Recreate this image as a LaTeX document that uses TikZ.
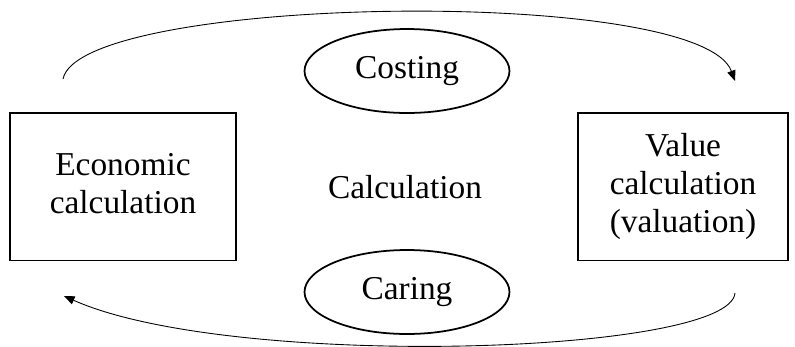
\documentclass[tikz,border=0pt]{standalone}
\usepackage{fontspec}
\setmainfont{Liberation Serif}
\usetikzlibrary{arrows.meta,shapes.geometric}

\begin{document}
\begin{tikzpicture}[x=0.02cm,y=-0.02cm, box/.style={draw,line width=1pt,align=center,
  font=\fontsize{19}{21.5}\selectfont,minimum height=2.95cm,inner sep=0pt},
  oval/.style={draw,ellipse,line width=1pt,font=\fontsize{19}{21.5}\selectfont,
  minimum width=4.1cm,minimum height=1.68cm,inner sep=0pt}, >={Triangle[length=6pt,width=4.8pt]}]
\useasboundingbox (0,0) rectangle (795,346);
\node[box,minimum width=4.52cm] (econ) at (123,186.7) {\raisebox{-5pt}{\begin{tabular}{@{}c@{}}Economic\\calculation\end{tabular}}};
\node[box,minimum width=4.2cm] (value) at (683,186.7) {\raisebox{-5pt}{\begin{tabular}{@{}c@{}}Value\\calculation\\(valuation)\end{tabular}}};
\node[font=\fontsize{19}{21.5}\selectfont] (calc) at (405,187) {Calculation};
\node[oval] (cost) at (407,71) {Costing};
\node[oval] (care) at (407,292) {Caring};
\coordinate (tl) at (63,79); \coordinate (tr) at (735,81);
\coordinate (br) at (735,293); \coordinate (bl) at (64,296);
\draw[->,line width=0.5pt] (tl) .. controls (80,-5) and (700,-15) .. (tr);
\draw[->,line width=0.5pt] (br) .. controls (730,355) and (230,370) .. (bl);
\end{tikzpicture}
\end{document}
